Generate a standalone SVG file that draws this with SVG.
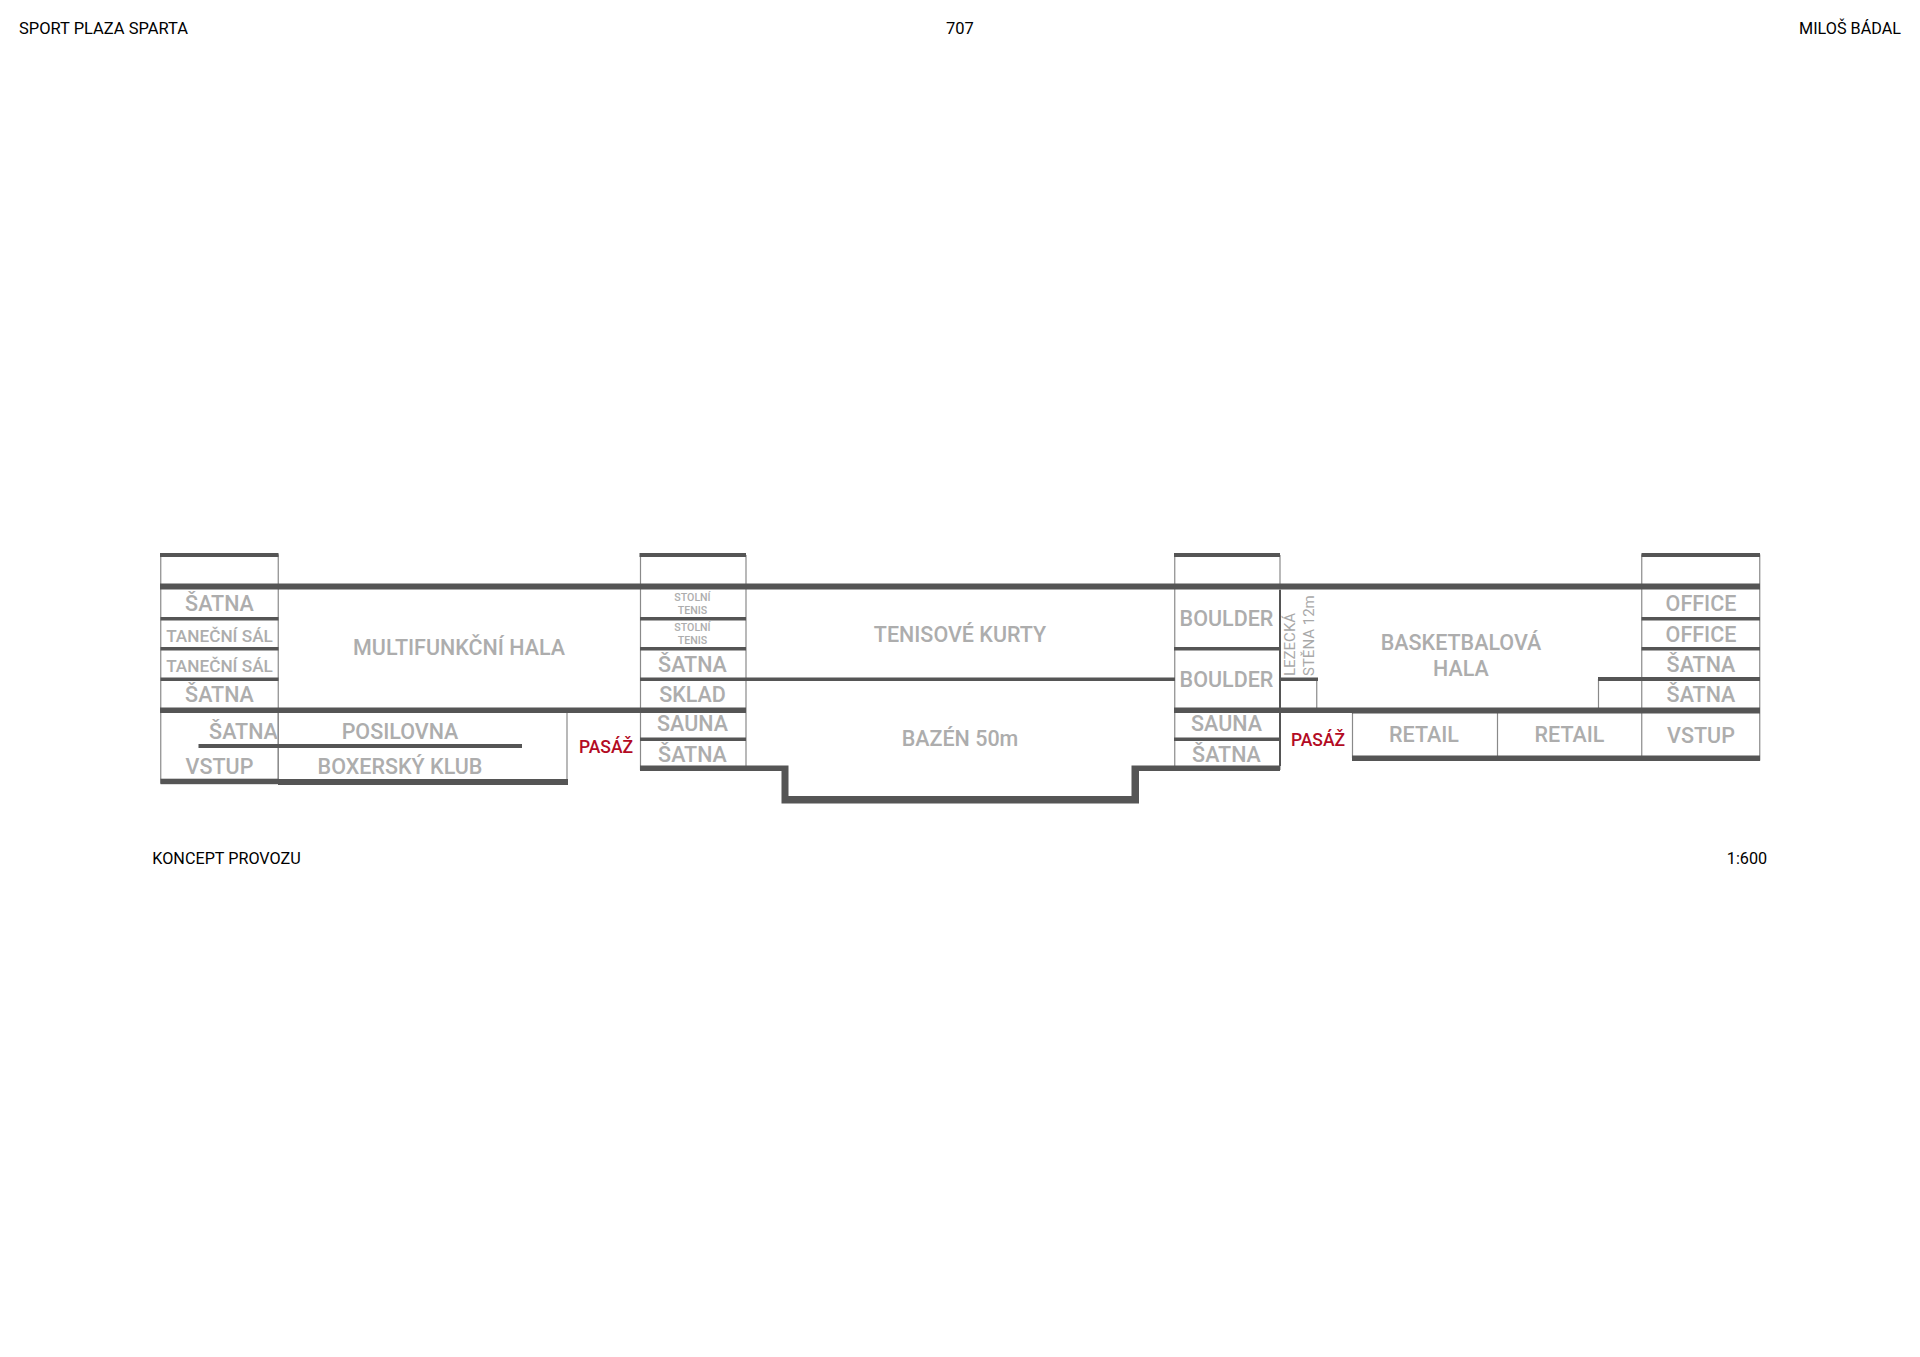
<svg xmlns="http://www.w3.org/2000/svg" width="1920" height="1357" viewBox="0 0 1920 1357">
<style>
text{font-family:Roboto,"Liberation Sans",sans-serif;text-anchor:middle}
.h{fill:#000;font-size:16.5px}
.k{fill:#000;font-size:16.2px}
.l{fill:#adadad;font-size:21.5px;font-weight:500}
.m{fill:#adadad;font-size:17.2px;font-weight:500}
.v{fill:#a8a8a8;font-size:15px;text-anchor:start}
.s{fill:#adadad;font-size:10.6px;font-weight:500}
.r{fill:#b30b24;font-size:17.5px;font-weight:500}
.b{fill:#555}
.t{fill:none;stroke:#8a8a8a;stroke-width:1.2}
</style>
<rect width="1920" height="1357" fill="#fff"/>
<g id="thin-walls">
<rect class="t" x="160.75" y="555" width="117.5" height="228"/>
<path class="t" d="M278.25 710V783M278.25 710H567V783"/>
<path class="t" d="M640.5 555V770M746 555V770"/>
<path class="t" d="M1174.75 555V770M1280 555V770"/>
<path class="t" d="M1316.75 679V710"/>
<path class="t" d="M1352.5 710V758M1497.5 710V758M1598.5 679V710"/>
<rect class="t" x="1641.75" y="555" width="118" height="205"/>
</g>
<g id="slabs">
<rect class="b" x="160" y="553" width="118.5" height="4"/>
<rect class="b" x="639.5" y="553" width="106.5" height="4"/>
<rect class="b" x="1174" y="553" width="106" height="4"/>
<rect class="b" x="1641.5" y="553" width="118.5" height="4"/>
<rect class="b" x="160" y="583.5" width="1600" height="6"/>
<rect class="b" x="160.5" y="617" width="118" height="3.5"/>
<rect class="b" x="160.5" y="647" width="118" height="3.5"/>
<rect class="b" x="160.5" y="677.5" width="118" height="3.5"/>
<rect class="b" x="160" y="707.5" width="586" height="5.5"/>
<rect class="b" x="198.5" y="744" width="323.5" height="4"/>
<rect class="b" x="160.5" y="778.7" width="118" height="5.5"/>
<rect class="b" x="278" y="779" width="290" height="6"/>
<rect class="b" x="640" y="617" width="106" height="3.5"/>
<rect class="b" x="640" y="647" width="106" height="3.5"/>
<rect class="b" x="640" y="677.5" width="535" height="3.5"/>
<rect class="b" x="640" y="737.5" width="106" height="3.5"/>
<path class="b" d="M640 765.5H788.5V796H1131.5V765.5H1280V771H1139V803.5H781.5V771H640Z"/>
<rect class="b" x="1174" y="647" width="106" height="3.5"/>
<rect class="b" x="1174" y="707.5" width="178" height="5.5"/>
<rect class="b" x="1174" y="737.5" width="106" height="3.5"/>
<rect class="b" x="1279" y="590" width="2" height="176"/>
<rect class="b" x="1280" y="677.5" width="38" height="3.5"/>
<rect class="b" x="1352" y="707.5" width="408" height="6"/>
<rect class="b" x="1352" y="755.5" width="408" height="5.5"/>
<rect class="b" x="1598" y="677" width="162" height="4"/>
<rect class="b" x="1641.5" y="617" width="118.5" height="3.5"/>
<rect class="b" x="1641.5" y="647" width="118.5" height="3.5"/>
</g>
<g id="header">
<text class="h" x="103.5" y="34">SPORT PLAZA SPARTA</text>
<text class="h" x="960" y="34">707</text>
<text class="k" x="1850" y="34">MILOŠ BÁDAL</text>
<text class="k" x="226.5" y="864">KONCEPT PROVOZU</text>
<text class="k" x="1747" y="864">1:600</text>
</g>
<g id="labels">
<text class="l" x="219.5" y="610.5">ŠATNA</text>
<text class="m" x="219.5" y="642">TANEČNÍ SÁL</text>
<text class="m" x="219.5" y="672">TANEČNÍ SÁL</text>
<text class="l" x="219.5" y="701.5">ŠATNA</text>
<text class="l" x="243.5" y="738.5">ŠATNA</text>
<text class="l" x="219.5" y="773.5">VSTUP</text>
<text class="l" x="459" y="654.5">MULTIFUNKČNÍ HALA</text>
<text class="l" x="400" y="738.5">POSILOVNA</text>
<text class="l" x="400" y="773.5">BOXERSKÝ KLUB</text>
<text class="r" x="606" y="753">PASÁŽ</text>
<text class="s" x="692.5" y="600.5">STOLNÍ</text>
<text class="s" x="692.5" y="613.5">TENIS</text>
<text class="s" x="692.5" y="631">STOLNÍ</text>
<text class="s" x="692.5" y="644">TENIS</text>
<text class="l" x="692.5" y="671.5">ŠATNA</text>
<text class="l" x="692.5" y="701.5">SKLAD</text>
<text class="l" x="692.5" y="731">SAUNA</text>
<text class="l" x="692.5" y="761.5">ŠATNA</text>
<text class="l" x="960" y="641.5">TENISOVÉ KURTY</text>
<text class="l" x="960" y="746">BAZÉN 50m</text>
<text class="l" x="1226.5" y="625.5">BOULDER</text>
<text class="l" x="1226.5" y="686.5">BOULDER</text>
<text class="l" x="1226.5" y="731">SAUNA</text>
<text class="l" x="1226.5" y="761.5">ŠATNA</text>
<text class="v" transform="translate(1295 676) rotate(-90)">LEZECKÁ</text>
<text class="v" transform="translate(1313.5 676) rotate(-90)">STĚNA 12m</text>
<text class="r" x="1318" y="746">PASÁŽ</text>
<text class="l" x="1461" y="650">BASKETBALOVÁ</text>
<text class="l" x="1461" y="676">HALA</text>
<text class="l" x="1424" y="742">RETAIL</text>
<text class="l" x="1569.5" y="742">RETAIL</text>
<text class="l" x="1701" y="610.5">OFFICE</text>
<text class="l" x="1701" y="641.5">OFFICE</text>
<text class="l" x="1701" y="671.5">ŠATNA</text>
<text class="l" x="1701" y="701.5">ŠATNA</text>
<text class="l" x="1701" y="743">VSTUP</text>
</g>
</svg>
